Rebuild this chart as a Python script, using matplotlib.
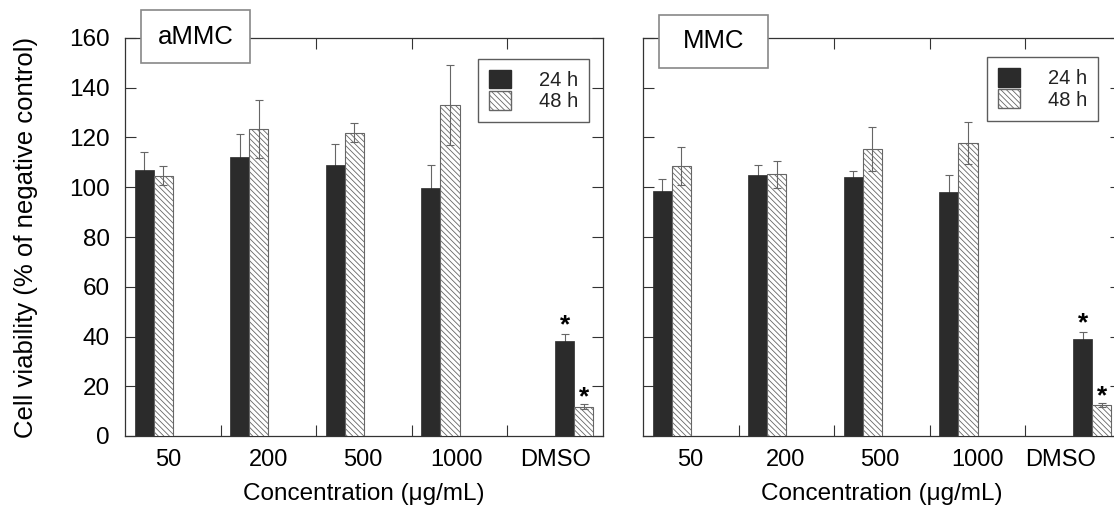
import matplotlib
matplotlib.use("Agg")
import matplotlib.pyplot as plt
from matplotlib.patches import Patch, Rectangle

plt.rcParams['font.family'] = ['Liberation Sans', 'DejaVu Sans']
plt.rcParams['hatch.linewidth'] = 0.6
plt.rcParams['hatch.color'] = '#777777'

# Data
categories = ['50', '200', '500', '1000', 'DMSO']
group_pos = [0.0, 1.0, 2.0, 3.0, 4.4]

ammc_24 = [107, 112, 109, 99.5, 38]
ammc_24_err = [7, 9.5, 8.5, 9.5, 3]
ammc_48 = [104.6, 123.3, 122, 133, 11.8]
ammc_48_err = [3.8, 11.7, 4, 16, 1]

mmc_24 = [98.6, 105, 104.2, 98, 38.9]
mmc_24_err = [4.8, 3.8, 2.5, 6.8, 3]
mmc_48 = [108.5, 105.2, 115.4, 117.9, 12.5]
mmc_48_err = [7.6, 5.5, 9, 8.5, 0.8]

star_24 = [44.5, 45.5]   # asterisk heights above DMSO 24 h bars (aMMC, MMC)
star_48 = [15.5, 16.0]

panels = [('aMMC', ammc_24, ammc_24_err, ammc_48, ammc_48_err),
          ('MMC', mmc_24, mmc_24_err, mmc_48, mmc_48_err)]

W, H = 1114, 508
fig = plt.figure(figsize=(W / 100, H / 100), dpi=100)

ax_left = [125, 643]
label_pos = [[0.45, 1.5, 2.49, 3.47, 4.5], [0.49, 1.49, 2.48, 3.5, 4.37]]
title_box = [(141, 10, 109, 53), (659, 15, 109, 53)]
legend_anchor = [(0.971, 0.948), (0.952, 0.952)]

dark = '#2b2b2b'
spine_col = '#333333'
bw = 0.2

for i, (name, v24, e24, v48, e48) in enumerate(panels):
    ax = fig.add_axes([ax_left[i] / W, (H - 436) / H, 478 / W, 398 / H])
    x24 = [p + 0.2 for p in group_pos]
    x48 = [p + 0.4 for p in group_pos]

    ax.bar(x24, v24, width=bw, color=dark, edgecolor=dark, linewidth=0.5, zorder=3)
    ax.bar(x48, v48, width=bw, color='white', edgecolor='#666666',
           linewidth=0.8, hatch='\\\\\\\\\\\\', zorder=3)
    ax.errorbar(x24, v24, yerr=e24, fmt='none', ecolor='#666666',
                elinewidth=0.8, capsize=3, capthick=0.8, zorder=2)
    ax.errorbar(x48, v48, yerr=e48, fmt='none', ecolor='#666666',
                elinewidth=0.8, capsize=3, capthick=0.8, zorder=4)

    ax.text(x24[-1], star_24[i], '*', ha='center', va='center',
            fontsize=19, fontweight='bold')
    ax.text(x48[-1], star_48[i], '*', ha='center', va='center',
            fontsize=19, fontweight='bold')

    ax.set_xlim(0, 5)
    ax.set_ylim(0, 160)
    ax.set_xticks([1, 2, 3, 4])
    ax.set_xticklabels([])
    ax.set_xticks(label_pos[i], minor=True)
    ax.set_xticklabels(categories, minor=True, fontsize=17)
    ax.tick_params(axis='x', which='minor', length=0, pad=9)
    ax.tick_params(axis='x', which='major', direction='in', length=8,
                   top=True, color=spine_col, width=0.8)
    ax.set_yticks(range(0, 161, 20))
    ax.tick_params(axis='y', direction='in', length=8, right=True,
                   color=spine_col, width=0.8, labelsize=17.5, pad=11)
    if i == 1:
        ax.set_yticklabels([])
    else:
        ax.set_ylabel('Cell viability (% of negative control)', fontsize=18.5, labelpad=22)
    ax.set_xlabel('Concentration (μg/mL)', fontsize=17.5, labelpad=9)
    for s in ax.spines.values():
        s.set_color(spine_col)
        s.set_linewidth(0.9)

    handles = [Patch(facecolor=dark, edgecolor=dark, label='24 h'),
               Patch(facecolor='white', edgecolor='#666666', hatch='\\\\\\\\\\\\', label='48 h')]
    leg = ax.legend(handles=handles, loc='upper right', bbox_to_anchor=legend_anchor[i],
                    fontsize=14.5, frameon=True, fancybox=False, handlelength=1.05,
                    handleheight=1.05, handletextpad=1.4, borderpad=0.55,
                    labelspacing=0.05, borderaxespad=0)
    leg.get_frame().set_edgecolor(spine_col)
    leg.get_frame().set_linewidth(1.0)
    for t in leg.get_texts():
        t.set_color('#222222')

    # title box in figure pixels
    bx, by, bwid, bh = title_box[i]
    fig.patches.append(Rectangle((bx / W, 1 - (by + bh) / H), bwid / W, bh / H,
                                 transform=fig.transFigure, facecolor='white',
                                 edgecolor='#888888', linewidth=1.2, zorder=10))
    fig.text((bx + bwid / 2) / W, 1 - (by + bh / 2) / H, name, ha='center', va='center',
             fontsize=18.5, zorder=11)

fig.savefig('out.png', dpi=100)
